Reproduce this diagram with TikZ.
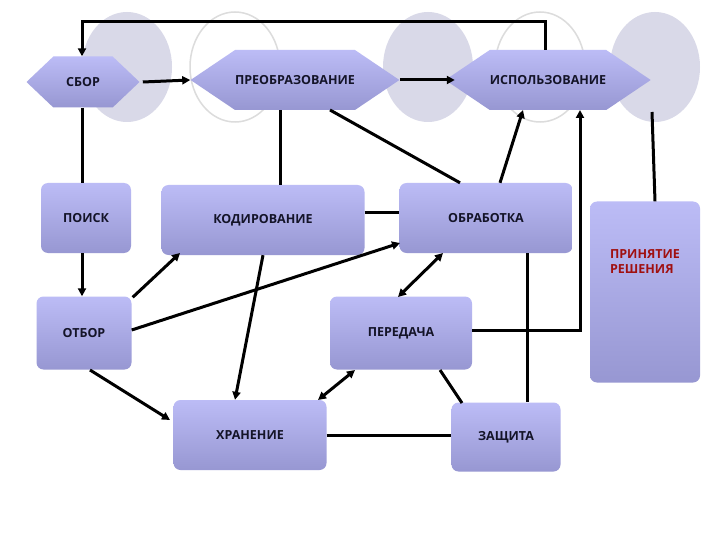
\documentclass[tikz,border=0pt]{standalone}
\usepackage{fontspec}
\setmainfont{Open Sans}
\usetikzlibrary{shapes.symbols,shapes.geometric,arrows.meta}
\begin{document}
\begin{tikzpicture}[x=1pt,y=-1pt,
  box/.style={rectangle,rounded corners=7pt,top color=boxtop,bottom color=boxbot,draw=none,
    font=\bfseries\fontsize{12.5}{14}\selectfont,text=txt,inner sep=0pt},
  hexa/.style={signal,signal to=west and east,top color=boxtop,bottom color=boxbot,draw=none,
    font=\bfseries\fontsize{12.5}{14}\selectfont,text=txt,inner sep=0pt},
  deco/.style={ellipse,draw=none,fill=decofill,minimum width=90pt,minimum height=110pt},
  decoo/.style={ellipse,draw=decoline,line width=1.5pt,minimum width=90pt,minimum height=110pt},
  ln/.style={line width=3pt,black},
  ar/.style={ln,-{Triangle[length=8pt,width=8pt]}},
  dar/.style={ln,{Triangle[length=8pt,width=8pt]}-{Triangle[length=8pt,width=8pt]}}]
\definecolor{boxtop}{HTML}{BCBCF6}
\definecolor{boxbot}{HTML}{9797D2}
\definecolor{txt}{HTML}{141428}
\definecolor{decofill}{HTML}{D9D9E8}
\definecolor{decoline}{HTML}{DCDCDC}
\definecolor{red1}{HTML}{A01010}
\useasboundingbox (0,0) rectangle (720,540);
\fill[white] (0,0) rectangle (720,540);
\node[deco] (c1) at (127,67) {};
\node[decoo] (c2) at (235,67) {};
\node[deco] (c3) at (428,67) {};
\node[decoo] (c4) at (540,67) {};
\node[deco] (c5) at (655,67) {};
\node[hexa,minimum width=113pt,minimum height=51pt,signal pointer angle=87] (sbor) at (83,82) {СБОР};
\node[hexa,minimum width=204pt,minimum height=60pt,signal pointer angle=68] (preob) at (295,80) {ПРЕОБРАЗОВАНИЕ};
\node[hexa,minimum width=200pt,minimum height=60pt,signal pointer angle=68] (isp) at (548,80) {ИСПОЛЬЗОВАНИЕ};
\node[box,minimum width=90pt,minimum height=70pt] (poisk) at (86,218) {ПОИСК};
\node[box,minimum width=203pt,minimum height=70pt] (kod) at (263,220) {КОДИРОВАНИЕ};
\node[box,minimum width=173pt,minimum height=70pt] (obr) at (486,218) {\raisebox{-4pt}{ОБРАБОТКА}};
\node[box,minimum width=110pt,minimum height=181pt] (prin) at (645,292) {};
\node[text=red1,font=\bfseries\fontsize{12.5}{15}\selectfont,align=left] (prtext) at (645,262) {ПРИНЯТИЕ\\РЕШЕНИЯ};
\node[box,minimum width=95pt,minimum height=73pt] (otbor) at (84,333) {ОТБОР};
\node[box,minimum width=142pt,minimum height=73pt] (pered) at (401,333) {ПЕРЕДАЧА};
\node[box,minimum width=153pt,minimum height=70pt] (hran) at (250,435) {ХРАНЕНИЕ};
\node[box,minimum width=109pt,minimum height=69pt] (zash) at (506,437) {ЗАЩИТА};
% connectors
\draw[ar] (isp.north -| 545,0) |- (82,22) -- (sbor.north -| 82,0);
\draw[ar] (sbor.east) ++(3,0) -- (preob.west);
\draw[ar] (preob.east) -- ++(55,0);
\draw[ln] (sbor.south -| 82,0) -- (poisk.north -| 82,0);
\draw[ar] (poisk.south -| 82,0) -- (otbor.north -| 82,0);
\draw[ln] (preob.south -| 280,0) -- (kod.north -| 280,0);
\draw[ln] (330,110) -- (obr.north -| 460,0);
\draw[ar] (obr.north -| 500,0) -- (523,110);
\draw[ln] (652,112) -- (prin.north -| 655,0);
\draw[ln] (kod.east |- 0,213) -- (obr.west |- 0,213);
\draw[ar] (otbor.north east) ++(1,1) -- (180,253);
\draw[ar] (otbor.east |- 0,330) -- (400,243);
\draw[ar] (kod.south -| 263,0) -- (hran.north -| 235,0);
\draw[dar] (443,253) -- (398,297);
\draw[ln] (obr.south -| 527,0) -- (zash.north -| 527,0);
\draw[ar] (pered.east |- 0,330) -| (580,110);
\draw[dar] (355,370) -- (318,400);
\draw[ln] (440,370) -- (462,403);
\draw[ar] (90,370) -- (170,420);
\draw[ln] (hran.east |- 0,435) -- (zash.west |- 0,435);
\end{tikzpicture}
\end{document}
